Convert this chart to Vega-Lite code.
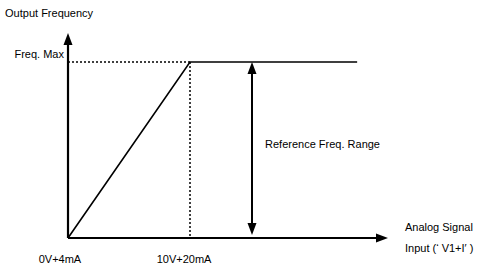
{
  "$schema": "https://vega.github.io/schema/vega-lite/v6.json",
  "width": 486,
  "height": 268,
  "autosize": {"type": "fit", "contains": "padding"},
  "padding": 0,
  "config": {"view": {"stroke": null}, "text": {"font": "Liberation Sans", "fontSize": 11, "fill": "#000"}},
  "datasets": {
    "axes": [{"x": 0, "y": 0, "x2": 0, "y2": 1.12}, {"x": 0, "y": 0, "x2": 25.8, "y2": 0}],
    "curve": [{"x": 0, "y": 0}, {"x": 10, "y": 1}, {"x": 23.7, "y": 1}],
    "dotted": [{"x": 0, "y": 1, "x2": 10, "y2": 1}, {"x": 10, "y": 1, "x2": 10, "y2": 0}],
    "range": [{"x": 15.08, "y": 0.05, "x2": 15.08, "y2": 0.96}],
    "upHeads": [{"x": 0, "y": 1.165}, {"x": 15.08, "y": 1.0}],
    "downHeads": [{"x": 15.08, "y": 0.017}],
    "rightHeads": [{"x": 26.23, "y": 0}],
    "labelsLeft": [
      {"x": -5.16, "y": 1.273, "label": "Output Frequency"},
      {"x": 16.15, "y": 0.528, "label": "Reference Freq. Range"},
      {"x": 27.62, "y": 0.057, "label": "Analog Signal"},
      {"x": 27.62, "y": -0.0625, "label": "Input (‘  V1+I′  )"}
    ],
    "labelsRight": [{"x": -0.33, "y": 1.04, "label": "Freq. Max"}],
    "labelsCenter": [
      {"x": -0.66, "y": -0.125, "label": "0V+4mA"},
      {"x": 9.51, "y": -0.125, "label": "10V+20mA"}
    ]
  },
  "layer": [
    {
      "data": {"name": "dotted"},
      "mark": {"type": "rule", "strokeDash": [2, 2], "strokeWidth": 1.5, "color": "#000"},
      "encoding": {
        "x": {"field": "x", "type": "quantitative", "scale": {"domain": [-5.574, 34.262], "nice": false, "zero": false}, "axis": null},
        "y": {"field": "y", "type": "quantitative", "scale": {"domain": [-0.1705, 1.352], "nice": false, "zero": false}, "axis": null},
        "x2": {"field": "x2"},
        "y2": {"field": "y2"}
      }
    },
    {
      "data": {"name": "axes"},
      "mark": {"type": "rule", "strokeWidth": 2.2, "color": "#000"},
      "encoding": {
        "x": {"field": "x", "type": "quantitative", "axis": null},
        "y": {"field": "y", "type": "quantitative", "axis": null},
        "x2": {"field": "x2"},
        "y2": {"field": "y2"}
      }
    },
    {
      "data": {"name": "curve"},
      "mark": {"type": "line", "strokeWidth": 1.6, "color": "#000"},
      "encoding": {
        "x": {"field": "x", "type": "quantitative", "axis": null},
        "y": {"field": "y", "type": "quantitative", "axis": null}
      }
    },
    {
      "data": {"name": "range"},
      "mark": {"type": "rule", "strokeWidth": 2, "color": "#000"},
      "encoding": {
        "x": {"field": "x", "type": "quantitative", "axis": null},
        "y": {"field": "y", "type": "quantitative", "axis": null},
        "x2": {"field": "x2"},
        "y2": {"field": "y2"}
      }
    },
    {
      "data": {"name": "upHeads"},
      "mark": {"type": "point", "shape": "M0,0 L-1.5,4 L1.5,4 Z", "size": 36, "filled": true, "color": "#000", "opacity": 1, "strokeWidth": 0},
      "encoding": {
        "x": {"field": "x", "type": "quantitative", "axis": null},
        "y": {"field": "y", "type": "quantitative", "axis": null}
      }
    },
    {
      "data": {"name": "downHeads"},
      "mark": {"type": "point", "shape": "M0,0 L-1.5,-4 L1.5,-4 Z", "size": 36, "filled": true, "color": "#000", "opacity": 1, "strokeWidth": 0},
      "encoding": {
        "x": {"field": "x", "type": "quantitative", "axis": null},
        "y": {"field": "y", "type": "quantitative", "axis": null}
      }
    },
    {
      "data": {"name": "rightHeads"},
      "mark": {"type": "point", "shape": "M0,0 L-4,-1.5 L-4,1.5 Z", "size": 36, "filled": true, "color": "#000", "opacity": 1, "strokeWidth": 0},
      "encoding": {
        "x": {"field": "x", "type": "quantitative", "axis": null},
        "y": {"field": "y", "type": "quantitative", "axis": null}
      }
    },
    {
      "data": {"name": "labelsLeft"},
      "mark": {"type": "text", "align": "left", "baseline": "middle"},
      "encoding": {
        "x": {"field": "x", "type": "quantitative", "axis": null},
        "y": {"field": "y", "type": "quantitative", "axis": null},
        "text": {"field": "label"}
      }
    },
    {
      "data": {"name": "labelsRight"},
      "mark": {"type": "text", "align": "right", "baseline": "middle"},
      "encoding": {
        "x": {"field": "x", "type": "quantitative", "axis": null},
        "y": {"field": "y", "type": "quantitative", "axis": null},
        "text": {"field": "label"}
      }
    },
    {
      "data": {"name": "labelsCenter"},
      "mark": {"type": "text", "align": "center", "baseline": "middle"},
      "encoding": {
        "x": {"field": "x", "type": "quantitative", "axis": null},
        "y": {"field": "y", "type": "quantitative", "axis": null},
        "text": {"field": "label"}
      }
    }
  ]
}
